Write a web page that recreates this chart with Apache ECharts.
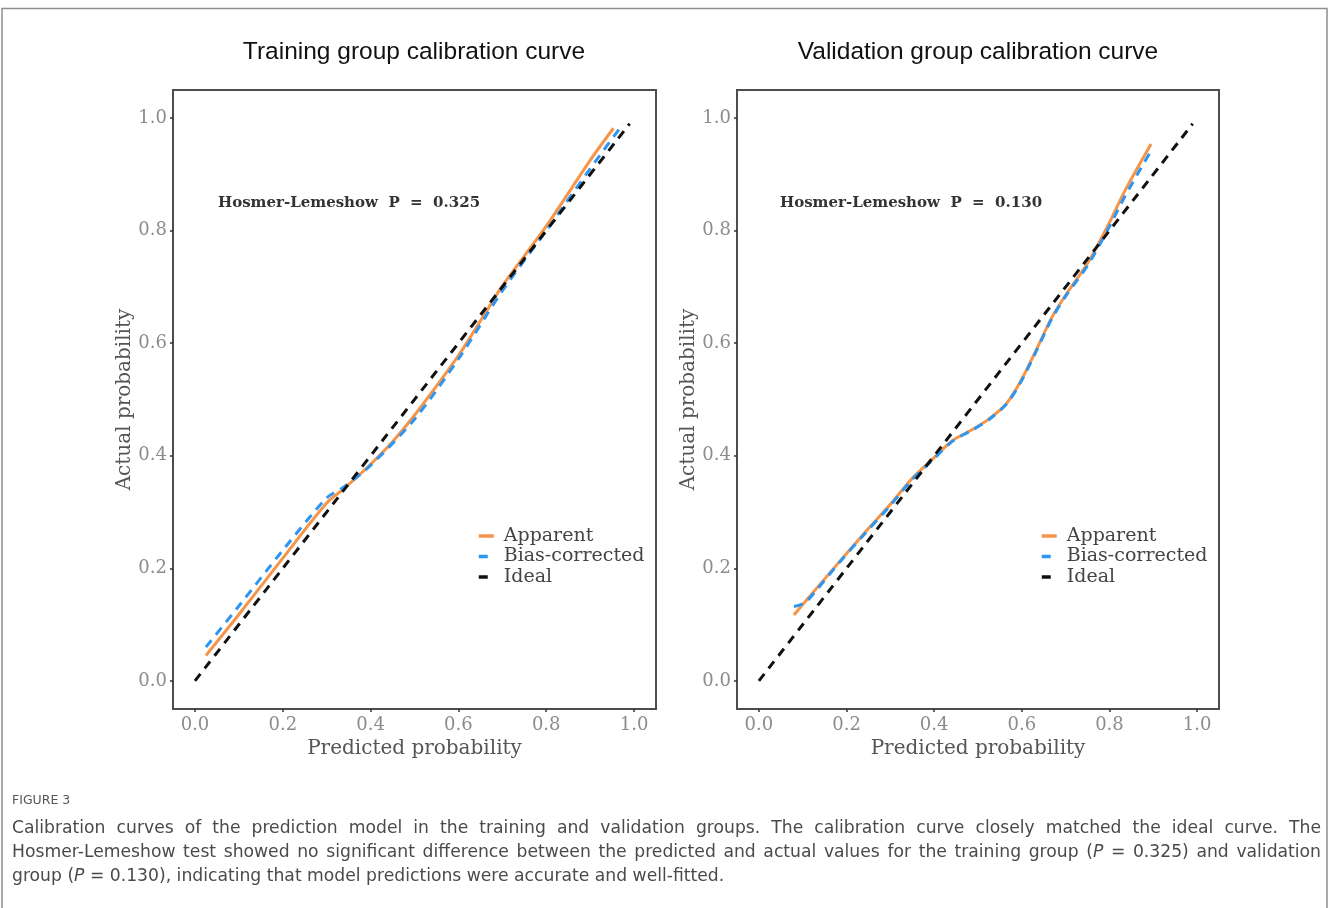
<!DOCTYPE html>
<html><head><meta charset="utf-8">
<script src="https://cdn.jsdelivr.net/npm/echarts@6/dist/echarts.min.js"></script>
<style>html,body{margin:0;padding:0;background:#fff}#c{width:1328px;height:908px}</style>
</head><body><div id="c"></div>
<script>
// ---------------- data ----------------
const panelTitles = ['Training group calibration curve', 'Validation group calibration curve'];
const tickValues = [0, 0.2, 0.4, 0.6, 0.8, 1.0];
const legendNames = ['Apparent', 'Bias-corrected', 'Ideal'];
const xAxisTitle = 'Predicted probability';
const yAxisTitle = 'Actual probability';
const hlLabels = ['Hosmer-Lemeshow  P  =  0.325', 'Hosmer-Lemeshow  P  =  0.130'];

const trainApparent = [[0.025,0.045],[0.1,0.118],[0.2,0.218],[0.3,0.316],[0.34,0.342],[0.4,0.385],[0.45,0.425],[0.5,0.472],[0.6,0.578],[0.66,0.652],[0.7,0.702],[0.8,0.808],[0.9,0.925],[0.953,0.982]];
const trainBias = [[0.025,0.06],[0.1,0.133],[0.2,0.232],[0.3,0.325],[0.34,0.345],[0.4,0.383],[0.5,0.465],[0.6,0.572],[0.7,0.693],[0.8,0.8],[0.9,0.91],[0.975,0.99]];
const trainIdeal = [[0, 0], [0.99, 0.99]];

const validApparent = [[0.08,0.117],[0.13,0.163],[0.183,0.211],[0.24,0.262],[0.297,0.311],[0.35,0.36],[0.396,0.394],[0.442,0.427],[0.488,0.447],[0.526,0.466],[0.565,0.493],[0.597,0.532],[0.633,0.588],[0.668,0.645],[0.702,0.688],[0.75,0.742],[0.797,0.81],[0.836,0.872],[0.895,0.954]];
const validBias = [[0.08,0.132],[0.105,0.139],[0.13,0.16],[0.183,0.21],[0.24,0.26],[0.297,0.309],[0.35,0.358],[0.396,0.392],[0.442,0.426],[0.488,0.446],[0.526,0.465],[0.565,0.492],[0.597,0.53],[0.633,0.586],[0.668,0.643],[0.702,0.686],[0.75,0.738],[0.797,0.803],[0.836,0.862],[0.895,0.942]];
const validIdeal = [[0, 0], [0.99, 0.99]];

const figureLabel = 'FIGURE 3';
const captionLines = [
  'Calibration curves of the prediction model in the training and validation groups. The calibration curve closely matched the ideal curve. The',
  'Hosmer-Lemeshow test showed no significant difference between the predicted and actual values for the training group (P = 0.325) and validation',
  'group (P = 0.130), indicating that model predictions were accurate and well-fitted.'
];

// ---------------- styles / layout ----------------
const COLORS = { apparent: '#F5954A', bias: '#2E95F0', ideal: '#111111' };
const SERIF = '"DejaVu Serif", serif';
const grids = [
  { left: 173, top: 90, width: 483, height: 619 },
  { left: 737, top: 90, width: 482, height: 619 }
];

function xAxis(gi) {
  return {
    type: 'value', gridIndex: gi, min: -0.05, max: 1.05,
    name: xAxisTitle, nameLocation: 'middle', nameGap: 29,
    nameTextStyle: { fontFamily: SERIF, fontSize: 20, color: '#555', verticalAlign: 'top' },
    axisLine: { show: false, onZero: false },
    axisTick: { show: true, customValues: tickValues, length: 3, lineStyle: { color: '#333', width: 1.5 } },
    axisLabel: { customValues: tickValues, formatter: v => v.toFixed(1), margin: 7, fontFamily: SERIF, fontSize: 18, color: '#8c8c8c' },
    splitLine: { show: false }
  };
}
function yAxis(gi) {
  return {
    type: 'value', gridIndex: gi, min: -0.05, max: 1.05,
    name: yAxisTitle, nameLocation: 'middle', nameGap: 38,
    nameTextStyle: { fontFamily: SERIF, fontSize: 20, color: '#555' },
    axisLine: { show: false, onZero: false },
    axisTick: { show: true, customValues: tickValues, length: 3, lineStyle: { color: '#333', width: 1.5 } },
    axisLabel: { customValues: tickValues, formatter: v => v.toFixed(1), margin: 6, fontFamily: SERIF, fontSize: 18, color: '#8c8c8c' },
    splitLine: { show: false }
  };
}
function line(name, data, gi, color, dashed, z) {
  return {
    type: 'line', name, data, xAxisIndex: gi, yAxisIndex: gi,
    symbol: 'none', showSymbol: false, smooth: 0.3,
    lineStyle: { color, width: 3, type: dashed ? [9, 7] : 'solid', cap: 'butt' },
    itemStyle: { color }, z, silent: true, animation: false
  };
}
function legend(left) {
  return {
    orient: 'vertical', left, top: 526, padding: 0, itemWidth: 15, itemHeight: 12, itemGap: 0.5,
    data: legendNames,
    itemStyle: { opacity: 0, borderWidth: 0 },
    lineStyle: { width: 3.5 },
    textStyle: { fontFamily: SERIF, fontSize: 19, color: '#444', lineHeight: 20, padding: [0, 0, 0, 5] }
  };
}

// ---------------- caption layout (justified) ----------------
const CAP_FONT_SIZE = 17.2;
const CAP_FAMILY = '"DejaVu Sans", sans-serif';
const CAP_COLOR = '#4a4a4a';
const measureCtx = document.createElement('canvas').getContext('2d');
measureCtx.font = CAP_FONT_SIZE + 'px ' + CAP_FAMILY;
function richWord(w) {
  return w.indexOf('(P') === 0 ? '(' + '{it|P}' + w.slice(2) : w;
}
function captionGraphics() {
  const out = [];
  const x0 = 12, x1 = 1321, y0 = 829, lh = 24;
  captionLines.forEach((ln, i) => {
    const words = ln.split(' ');
    const widths = words.map(w => measureCtx.measureText(w).width);
    const total = widths.reduce((a, b) => a + b, 0);
    const justify = i < captionLines.length - 1;
    const gap = justify ? (x1 - x0 - total) / (words.length - 1) : measureCtx.measureText(' ').width;
    let x = x0;
    words.forEach((w, k) => {
      out.push({
        type: 'text', x, y: y0 + i * lh,
        style: {
          text: richWord(w), fontFamily: CAP_FAMILY, fontSize: CAP_FONT_SIZE, fill: CAP_COLOR,
          verticalAlign: 'middle', align: 'left',
          rich: { it: { fontStyle: 'italic', fontFamily: CAP_FAMILY, fontSize: CAP_FONT_SIZE, fill: CAP_COLOR } }
        }
      });
      x += widths[k] + gap;
    });
  });
  return out;
}

const TITLE_FONT = '"Liberation Sans", Arial, sans-serif';
const graphics = [
  { type: 'rect', shape: { x: 2, y: 8.5, width: 1325, height: 920 }, style: { fill: 'none', stroke: '#8f8f8f', lineWidth: 1.5 }, silent: true },
  { type: 'text', x: 414, y: 52, style: { text: panelTitles[0], fontFamily: TITLE_FONT, fontSize: 24.5, fill: '#111', align: 'center', verticalAlign: 'middle' } },
  { type: 'text', x: 978, y: 52, style: { text: panelTitles[1], fontFamily: TITLE_FONT, fontSize: 24.5, fill: '#111', align: 'center', verticalAlign: 'middle' } },
  { type: 'text', x: 218, y: 203, style: { text: hlLabels[0], fontFamily: SERIF, fontWeight: 'bold', fontSize: 15, fill: '#333', align: 'left', verticalAlign: 'middle' } },
  { type: 'text', x: 780, y: 203, style: { text: hlLabels[1], fontFamily: SERIF, fontWeight: 'bold', fontSize: 15, fill: '#333', align: 'left', verticalAlign: 'middle' } },
  { type: 'text', x: 12, y: 801, style: { text: figureLabel, fontFamily: CAP_FAMILY, fontSize: 12.5, fill: '#555', align: 'left', verticalAlign: 'middle' } }
].concat(captionGraphics());

const chart = echarts.init(document.getElementById('c'), null, { renderer: 'canvas' });
chart.setOption({
  animation: false,
  backgroundColor: '#fff',
  grid: grids.map(g => Object.assign({ show: true, borderColor: '#4d4d4d', borderWidth: 2, backgroundColor: 'transparent', containLabel: false }, g)),
  xAxis: [xAxis(0), xAxis(1)],
  yAxis: [yAxis(0), yAxis(1)],
  legend: [legend(477), legend(1040)],
  series: [
    line('Apparent', trainApparent, 0, COLORS.apparent, false, 2),
    line('Bias-corrected', trainBias, 0, COLORS.bias, true, 3),
    line('Ideal', trainIdeal, 0, COLORS.ideal, true, 4),
    line('Apparent', validApparent, 1, COLORS.apparent, false, 2),
    line('Bias-corrected', validBias, 1, COLORS.bias, true, 3),
    line('Ideal', validIdeal, 1, COLORS.ideal, true, 4)
  ],
  graphic: graphics
});
</script></body></html>
